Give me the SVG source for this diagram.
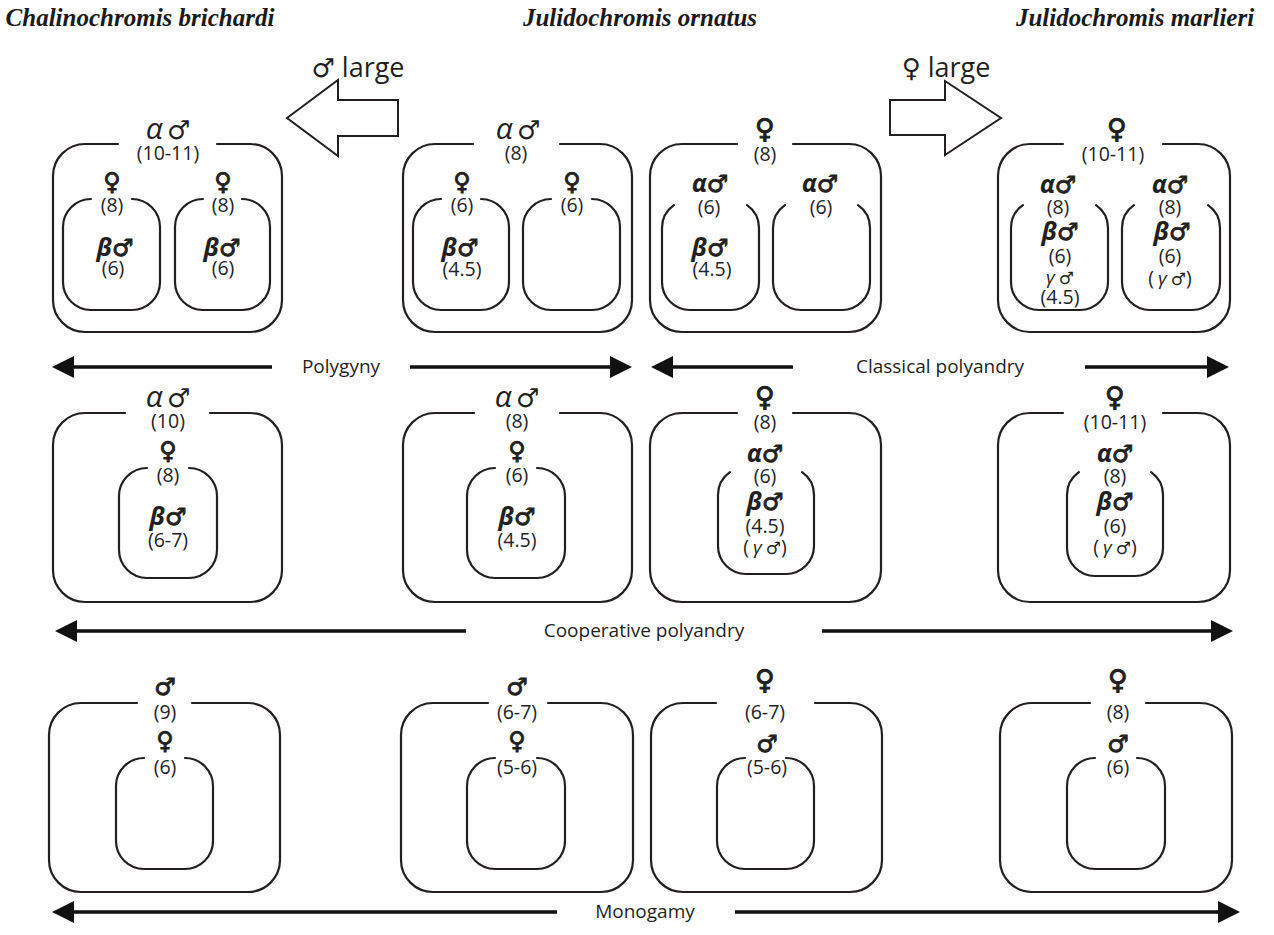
<svg xmlns="http://www.w3.org/2000/svg" width="1274" height="935" viewBox="0 0 1274 935">
  <defs>
    <style>
      .box { fill: none; stroke: #231f20; stroke-width: 2.2; stroke-linecap: round; }
      .barrow { fill: #fff; stroke: #231f20; stroke-width: 2; stroke-linejoin: miter; }
      .line { stroke: #111; stroke-width: 3.6; fill: none; }
      text { fill: #231f20; text-anchor: middle; }
      .title { font-family: "Liberation Serif", "Times New Roman", serif; font-weight: bold; font-style: italic; font-size: 25px; fill: #1a1a1a; }
      .num { font-family: "Open Sans", "Noto Sans", sans-serif; font-size: 19.5px; fill: #222228; }
      .lab { font-family: "Open Sans", "Noto Sans", sans-serif; font-size: 19px; fill: #1f1f1f; }
      .big { font-family: "Open Sans", "Noto Sans", sans-serif; font-size: 27px; fill: #1f1f1f; }
      .ga { font-family: "Open Sans", "Noto Sans", sans-serif; font-style: italic; font-size: 30px; }
      .gb { font-family: "Open Sans", "Noto Sans", sans-serif; font-style: italic; font-weight: bold; font-size: 25px; }
      .gs { font-family: "Open Sans", "Noto Sans", sans-serif; font-style: italic; font-size: 19px; }
      .sx { font-family: "DejaVu Sans", sans-serif; font-weight: bold; font-size: 24px; stroke: #231f20; stroke-width: 0.9; }
      .sxl { font-family: "DejaVu Sans", sans-serif; font-weight: bold; font-size: 27px; stroke: #231f20; stroke-width: 1; }
      .sxr { font-family: "DejaVu Sans", sans-serif; font-size: 26px; }
      .sxs { font-family: "DejaVu Sans", sans-serif; font-size: 17px; }
    </style>
    <marker id="head" viewBox="0 0 22 22" refX="2" refY="11" markerWidth="22" markerHeight="22" markerUnits="userSpaceOnUse" orient="auto">
      <path d="M0,0 L22,11 L0,22 z" fill="#111"/>
    </marker>
  </defs>

  <rect width="1274" height="935" fill="#fff"/>

  <!-- species headings -->
  <g id="titles">
    <text class="title" x="140" y="26">Chalinochromis brichardi</text>
    <text class="title" x="640" y="26">Julidochromis ornatus</text>
    <text class="title" x="1135" y="26">Julidochromis marlieri</text>
  </g>

  <!-- size trend arrows -->
  <g id="size-arrows">
    <polygon class="barrow" points="287,118 338,80 338,100 398,100 398,136 338,136 338,156"/>
    <text class="big" x="358" y="77"><tspan class="sxr">♂</tspan> large</text>
    <polygon class="barrow" points="890,100 945,100 945,81 1001,118 945,155 945,135 890,135"/>
    <text class="big" x="946" y="77"><tspan class="sxr">♀</tspan> large</text>
  </g>

  <!-- mating system axes -->
  <g id="connectors">
    <line class="line" x1="272" y1="367" x2="72" y2="367" marker-end="url(#head)"/>
    <line class="line" x1="410" y1="367" x2="612" y2="367" marker-end="url(#head)"/>
    <text class="lab" x="341" y="373">Polygyny</text>
    <line class="line" x1="793" y1="367" x2="671" y2="367" marker-end="url(#head)"/>
    <line class="line" x1="1085" y1="367" x2="1209" y2="367" marker-end="url(#head)"/>
    <text class="lab" x="940" y="373">Classical polyandry</text>
    <line class="line" x1="466" y1="631" x2="75" y2="631" marker-end="url(#head)"/>
    <line class="line" x1="822" y1="631" x2="1213" y2="631" marker-end="url(#head)"/>
    <text class="lab" x="644" y="637">Cooperative polyandry</text>
    <line class="line" x1="557" y1="912" x2="72" y2="912" marker-end="url(#head)"/>
    <line class="line" x1="735" y1="912" x2="1220" y2="912" marker-end="url(#head)"/>
    <text class="lab" x="645" y="918">Monogamy</text>
  </g>

  <!-- Row 1: polygyny / classical polyandry -->
  <g id="cb-polygyny">
    <path class="box" d="M217,144 H250 A32,32 0 0 1 282,176 V300 A32,32 0 0 1 250,332 H85 A32,32 0 0 1 53,300 V176 A32,32 0 0 1 85,144 H118"/>
    <path class="box" d="M132,199 A28,28 0 0 1 160,227 V282 A28,28 0 0 1 132,310 H91 A28,28 0 0 1 63,282 V227 A28,28 0 0 1 91,199"/>
    <path class="box" d="M242,199 A28,28 0 0 1 270,227 V282 A28,28 0 0 1 242,310 H203 A28,28 0 0 1 175,282 V227 A28,28 0 0 1 203,199"/>
    <text x="168" y="139"><tspan class="ga">α</tspan> <tspan class="sxr">♂</tspan></text>
    <text class="num" x="168" y="160">(10-11)</text>
    <text class="sx" x="112" y="190">♀</text>
    <text class="num" x="112" y="212">(8)</text>
    <text x="115" y="256"><tspan class="gb">β</tspan><tspan class="sx">♂</tspan></text>
    <text class="num" x="113" y="275">(6)</text>
    <text class="sx" x="223" y="190">♀</text>
    <text class="num" x="223" y="212">(8)</text>
    <text x="222" y="256"><tspan class="gb">β</tspan><tspan class="sx">♂</tspan></text>
    <text class="num" x="223" y="275">(6)</text>
  </g>

  <g id="jo-polygyny">
    <path class="box" d="M560,144 H600 A32,32 0 0 1 632,176 V300 A32,32 0 0 1 600,332 H435 A32,32 0 0 1 403,300 V176 A32,32 0 0 1 435,144 H473"/>
    <path class="box" d="M481,199 A28,28 0 0 1 509,227 V282 A28,28 0 0 1 481,310 H441 A28,28 0 0 1 413,282 V227 A28,28 0 0 1 441,199"/>
    <path class="box" d="M592,199 A28,28 0 0 1 620,227 V282 A28,28 0 0 1 592,310 H551 A28,28 0 0 1 523,282 V227 A28,28 0 0 1 551,199"/>
    <text x="518" y="139"><tspan class="ga">α</tspan> <tspan class="sxr">♂</tspan></text>
    <text class="num" x="516" y="160">(8)</text>
    <text class="sx" x="462" y="190">♀</text>
    <text class="num" x="462" y="212">(6)</text>
    <text x="460" y="256"><tspan class="gb">β</tspan><tspan class="sx">♂</tspan></text>
    <text class="num" x="462" y="276">(4.5)</text>
    <text class="sx" x="572" y="190">♀</text>
    <text class="num" x="572" y="212">(6)</text>
  </g>

  <g id="jo-classical">
    <path class="box" d="M793,144 H849 A32,32 0 0 1 881,176 V300 A32,32 0 0 1 849,332 H682 A32,32 0 0 1 650,300 V176 A32,32 0 0 1 682,144 H737"/>
    <path class="box" d="M747.1,205.1 A28,28 0 0 1 759,228 V282 A28,28 0 0 1 731,310 H690 A28,28 0 0 1 662,282 V228 A28,28 0 0 1 673.9,205.1"/>
    <path class="box" d="M858.1,205.1 A28,28 0 0 1 870,228 V282 A28,28 0 0 1 842,310 H801 A28,28 0 0 1 773,282 V228 A28,28 0 0 1 784.9,205.1"/>
    <text class="sxl" x="765" y="138">♀</text>
    <text class="num" x="765" y="161">(8)</text>
    <text x="710" y="192"><tspan class="gb">α</tspan><tspan class="sx">♂</tspan></text>
    <text class="num" x="709" y="214">(6)</text>
    <text x="710" y="256"><tspan class="gb">β</tspan><tspan class="sx">♂</tspan></text>
    <text class="num" x="712" y="276">(4.5)</text>
    <text x="820" y="192"><tspan class="gb">α</tspan><tspan class="sx">♂</tspan></text>
    <text class="num" x="821" y="214">(6)</text>
  </g>

  <g id="jm-classical">
    <path class="box" d="M1163,144 H1198 A32,32 0 0 1 1230,176 V300 A32,32 0 0 1 1198,332 H1030 A32,32 0 0 1 998,300 V176 A32,32 0 0 1 1030,144 H1063"/>
    <path class="box" d="M1096.1,205.1 A28,28 0 0 1 1108,228 V282 A28,28 0 0 1 1080,310 H1039 A28,28 0 0 1 1011,282 V228 A28,28 0 0 1 1022.9,205.1"/>
    <path class="box" d="M1208.1,205.1 A28,28 0 0 1 1220,228 V282 A28,28 0 0 1 1192,310 H1150 A28,28 0 0 1 1122,282 V228 A28,28 0 0 1 1133.9,205.1"/>
    <text class="sxl" x="1117" y="138">♀</text>
    <text class="num" x="1113" y="161">(10-11)</text>
    <text x="1058" y="193"><tspan class="gb">α</tspan><tspan class="sx">♂</tspan></text>
    <text class="num" x="1058" y="214">(8)</text>
    <text x="1060" y="240"><tspan class="gb">β</tspan><tspan class="sx">♂</tspan></text>
    <text class="num" x="1060" y="263">(6)</text>
    <text x="1060" y="284"><tspan class="gs">γ</tspan> <tspan class="sxs">♂</tspan></text>
    <text class="num" x="1060" y="304">(4.5)</text>
    <text x="1170" y="193"><tspan class="gb">α</tspan><tspan class="sx">♂</tspan></text>
    <text class="num" x="1170" y="214">(8)</text>
    <text x="1172" y="240"><tspan class="gb">β</tspan><tspan class="sx">♂</tspan></text>
    <text class="num" x="1170" y="263">(6)</text>
    <text x="1170" y="285"><tspan class="num">(</tspan> <tspan class="gs">γ</tspan> <tspan class="sxs">♂</tspan><tspan class="num">)</tspan></text>
  </g>

  <!-- Row 2: cooperative polyandry -->
  <g id="cb-cooperative">
    <path class="box" d="M210,413 H250 A32,32 0 0 1 282,445 V570 A32,32 0 0 1 250,602 H85 A32,32 0 0 1 53,570 V445 A32,32 0 0 1 85,413 H125"/>
    <path class="box" d="M189,468 A28,28 0 0 1 217,496 V550 A28,28 0 0 1 189,578 H147 A28,28 0 0 1 119,550 V496 A28,28 0 0 1 147,468"/>
    <text x="168" y="407"><tspan class="ga">α</tspan> <tspan class="sxr">♂</tspan></text>
    <text class="num" x="168" y="428">(10)</text>
    <text class="sx" x="168" y="459">♀</text>
    <text class="num" x="168" y="482">(8)</text>
    <text x="168" y="525"><tspan class="gb">β</tspan><tspan class="sx">♂</tspan></text>
    <text class="num" x="168" y="547">(6-7)</text>
  </g>

  <g id="jo-cooperative-a">
    <path class="box" d="M560,413 H600 A32,32 0 0 1 632,445 V570 A32,32 0 0 1 600,602 H435 A32,32 0 0 1 403,570 V445 A32,32 0 0 1 435,413 H474"/>
    <path class="box" d="M537,468 A28,28 0 0 1 565,496 V550 A28,28 0 0 1 537,578 H495 A28,28 0 0 1 467,550 V496 A28,28 0 0 1 495,468"/>
    <text x="517" y="407"><tspan class="ga">α</tspan> <tspan class="sxr">♂</tspan></text>
    <text class="num" x="517" y="428">(8)</text>
    <text class="sx" x="517" y="459">♀</text>
    <text class="num" x="517" y="482">(6)</text>
    <text x="517" y="525"><tspan class="gb">β</tspan><tspan class="sx">♂</tspan></text>
    <text class="num" x="517" y="547">(4.5)</text>
  </g>

  <g id="jo-cooperative-b">
    <path class="box" d="M793,413 H849 A32,32 0 0 1 881,445 V570 A32,32 0 0 1 849,602 H682 A32,32 0 0 1 650,570 V445 A32,32 0 0 1 682,413 H737"/>
    <path class="box" d="M802.1,472.1 A28,28 0 0 1 814,495 V546 A28,28 0 0 1 786,574 H746 A28,28 0 0 1 718,546 V495 A28,28 0 0 1 729.9,472.1"/>
    <text class="sxl" x="765" y="406">♀</text>
    <text class="num" x="765" y="429">(8)</text>
    <text x="765" y="462"><tspan class="gb">α</tspan><tspan class="sx">♂</tspan></text>
    <text class="num" x="765" y="483">(6)</text>
    <text x="765" y="510"><tspan class="gb">β</tspan><tspan class="sx">♂</tspan></text>
    <text class="num" x="765" y="533">(4.5)</text>
    <text x="765" y="554"><tspan class="num">(</tspan> <tspan class="gs">γ</tspan> <tspan class="sxs">♂</tspan><tspan class="num">)</tspan></text>
  </g>

  <g id="jm-cooperative">
    <path class="box" d="M1163,413 H1198 A32,32 0 0 1 1230,445 V570 A32,32 0 0 1 1198,602 H1030 A32,32 0 0 1 998,570 V445 A32,32 0 0 1 1030,413 H1063"/>
    <path class="box" d="M1151.1,472.1 A28,28 0 0 1 1163,495 V548 A28,28 0 0 1 1135,576 H1095 A28,28 0 0 1 1067,548 V495 A28,28 0 0 1 1078.9,472.1"/>
    <text class="sxl" x="1115" y="406">♀</text>
    <text class="num" x="1115" y="429">(10-11)</text>
    <text x="1115" y="462"><tspan class="gb">α</tspan><tspan class="sx">♂</tspan></text>
    <text class="num" x="1115" y="483">(8)</text>
    <text x="1115" y="510"><tspan class="gb">β</tspan><tspan class="sx">♂</tspan></text>
    <text class="num" x="1115" y="533">(6)</text>
    <text x="1115" y="554"><tspan class="num">(</tspan> <tspan class="gs">γ</tspan> <tspan class="sxs">♂</tspan><tspan class="num">)</tspan></text>
  </g>

  <!-- Row 3: monogamy -->
  <g id="cb-monogamy">
    <path class="box" d="M192,703 H248 A32,32 0 0 1 280,735 V860 A32,32 0 0 1 248,892 H81 A32,32 0 0 1 49,860 V735 A32,32 0 0 1 81,703 H137"/>
    <path class="box" d="M185,758 A28,28 0 0 1 213,786 V841 A28,28 0 0 1 185,869 H144 A28,28 0 0 1 116,841 V786 A28,28 0 0 1 144,758"/>
    <text class="sx" x="165" y="695">♂</text>
    <text class="num" x="165" y="719">(9)</text>
    <text class="sx" x="165" y="749">♀</text>
    <text class="num" x="165" y="774">(6)</text>
  </g>

  <g id="jo-monogamy-a">
    <path class="box" d="M548,703 H601 A32,32 0 0 1 633,735 V860 A32,32 0 0 1 601,892 H433 A32,32 0 0 1 401,860 V735 A32,32 0 0 1 433,703 H488"/>
    <path class="box" d="M537,758 A28,28 0 0 1 565,786 V841 A28,28 0 0 1 537,869 H495 A28,28 0 0 1 467,841 V786 A28,28 0 0 1 495,758"/>
    <text class="sx" x="517" y="695">♂</text>
    <text class="num" x="517" y="719">(6-7)</text>
    <text class="sx" x="517" y="749">♀</text>
    <text class="num" x="517" y="774">(5-6)</text>
  </g>

  <g id="jo-monogamy-b">
    <path class="box" d="M815,703 H850 A32,32 0 0 1 882,735 V860 A32,32 0 0 1 850,892 H683 A32,32 0 0 1 651,860 V735 A32,32 0 0 1 683,703 H716"/>
    <path class="box" d="M786,758 A28,28 0 0 1 814,786 V841 A28,28 0 0 1 786,869 H745 A28,28 0 0 1 717,841 V786 A28,28 0 0 1 745,758"/>
    <text class="sxl" x="765" y="689">♀</text>
    <text class="num" x="765" y="719">(6-7)</text>
    <text class="sx" x="767" y="752">♂</text>
    <text class="num" x="767" y="774">(5-6)</text>
  </g>

  <g id="jm-monogamy">
    <path class="box" d="M1146,703 H1200 A32,32 0 0 1 1232,735 V860 A32,32 0 0 1 1200,892 H1032 A32,32 0 0 1 1000,860 V735 A32,32 0 0 1 1032,703 H1090"/>
    <path class="box" d="M1137,758 A28,28 0 0 1 1165,786 V841 A28,28 0 0 1 1137,869 H1095 A28,28 0 0 1 1067,841 V786 A28,28 0 0 1 1095,758"/>
    <text class="sxl" x="1118" y="689">♀</text>
    <text class="num" x="1118" y="719">(8)</text>
    <text class="sx" x="1118" y="752">♂</text>
    <text class="num" x="1118" y="774">(6)</text>
  </g>
</svg>
